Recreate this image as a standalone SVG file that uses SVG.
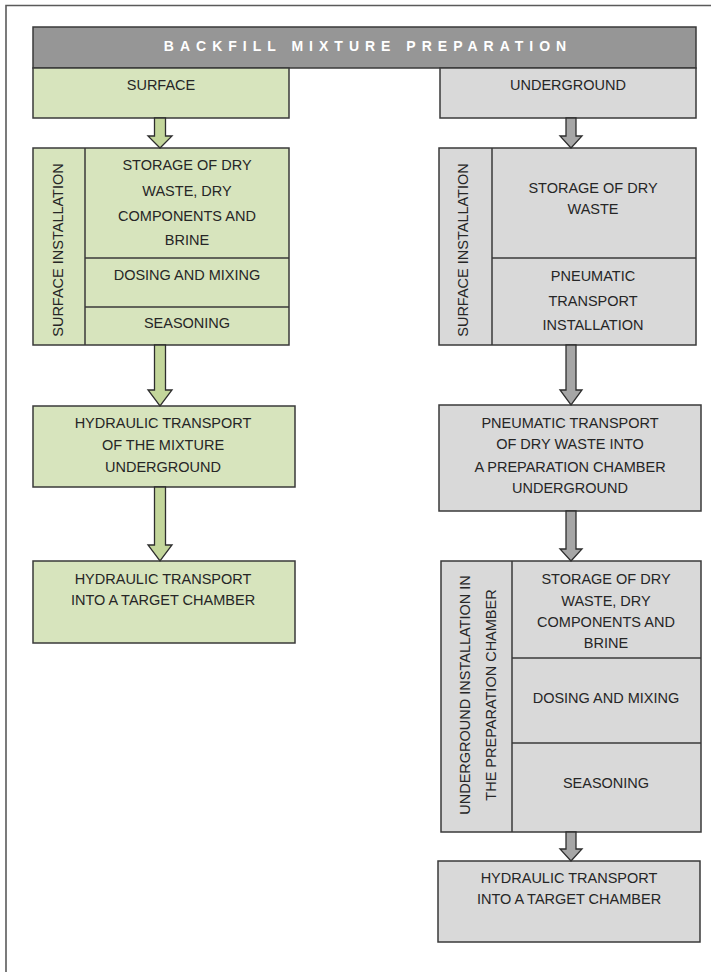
<svg xmlns="http://www.w3.org/2000/svg" width="711" height="972" viewBox="0 0 711 972">
<style>
  .t { font-family: "Liberation Sans", Arial, sans-serif; font-size: 14.5px; fill: #262626; text-anchor: middle; }
  .title { font-family: "Liberation Sans", Arial, sans-serif; font-size: 14px; font-weight: bold; fill: #ffffff; text-anchor: middle; letter-spacing: 6px; }
  .g { fill: #d7e4bd; stroke: #3a3a3a; stroke-width: 1.5; }
  .y { fill: #d9d9d9; stroke: #3a3a3a; stroke-width: 1.5; }
  .ln { fill: none; stroke: #3a3a3a; stroke-width: 1.5; }
  .ag { fill: #c3d69b; stroke: #2e2e2e; stroke-width: 1.3; stroke-linejoin: miter; }
  .ay { fill: #a6a6a6; stroke: #2e2e2e; stroke-width: 1.3; stroke-linejoin: miter; }
</style>
<rect width="711" height="972" fill="#ffffff"/>
<path d="M6,972 V5.5 H711" fill="none" stroke="#5a5a5a" stroke-width="1.6"/>

<g id="title">
  <rect x="33" y="27" width="663" height="41" fill="#969696" stroke="#3a3a3a" stroke-width="1.5"/>
  <text class="title" x="368" y="51">BACKFILL MIXTURE PREPARATION</text>
</g>

<g id="surface">
  <rect class="g" x="33" y="68" width="256" height="50"/>
  <text class="t" x="161" y="90">SURFACE</text>
</g>

<g id="underground">
  <rect class="y" x="440" y="68" width="256" height="50"/>
  <text class="t" x="568" y="90">UNDERGROUND</text>
</g>

<g id="surface-installation">
  <rect class="g" x="33" y="148" width="256" height="197"/>
  <line class="ln" x1="85" y1="148" x2="85" y2="345"/>
  <line class="ln" x1="85" y1="258" x2="289" y2="258"/>
  <line class="ln" x1="85" y1="307" x2="289" y2="307"/>
  <text class="t" transform="translate(63,250) rotate(-90)" x="0" y="0">SURFACE INSTALLATION</text>
  <text class="t" x="187" y="170">STORAGE OF DRY</text>
  <text class="t" x="187" y="196">WASTE, DRY</text>
  <text class="t" x="187" y="221">COMPONENTS AND</text>
  <text class="t" x="187" y="245">BRINE</text>
  <text class="t" x="187" y="280">DOSING AND MIXING</text>
  <text class="t" x="187" y="328">SEASONING</text>
</g>

<g id="hydraulic-underground">
  <rect class="g" x="33" y="406" width="262" height="81"/>
  <text class="t" x="163" y="428">HYDRAULIC TRANSPORT</text>
  <text class="t" x="163" y="450">OF THE MIXTURE</text>
  <text class="t" x="163" y="472">UNDERGROUND</text>
</g>

<g id="hydraulic-target-left">
  <rect class="g" x="33" y="561" width="262" height="82"/>
  <text class="t" x="163" y="584">HYDRAULIC TRANSPORT</text>
  <text class="t" x="163" y="605">INTO A TARGET CHAMBER</text>
</g>

<g id="underground-surface-installation">
  <rect class="y" x="439" y="148" width="257" height="197"/>
  <line class="ln" x1="492" y1="148" x2="492" y2="345"/>
  <line class="ln" x1="492" y1="258" x2="696" y2="258"/>
  <text class="t" transform="translate(468,250) rotate(-90)" x="0" y="0">SURFACE INSTALLATION</text>
  <text class="t" x="593" y="193">STORAGE OF DRY</text>
  <text class="t" x="593" y="214">WASTE</text>
  <text class="t" x="593" y="281">PNEUMATIC</text>
  <text class="t" x="593" y="306">TRANSPORT</text>
  <text class="t" x="593" y="330">INSTALLATION</text>
</g>

<g id="pneumatic-transport">
  <rect class="y" x="439" y="405" width="262" height="106"/>
  <text class="t" x="570" y="428">PNEUMATIC TRANSPORT</text>
  <text class="t" x="570" y="449">OF DRY WASTE INTO</text>
  <text class="t" x="570" y="472">A PREPARATION CHAMBER</text>
  <text class="t" x="570" y="493">UNDERGROUND</text>
</g>

<g id="preparation-chamber">
  <rect class="y" x="441" y="561" width="260" height="271"/>
  <line class="ln" x1="512" y1="561" x2="512" y2="832"/>
  <line class="ln" x1="512" y1="658" x2="701" y2="658"/>
  <line class="ln" x1="512" y1="743" x2="701" y2="743"/>
  <text class="t" transform="translate(470,695) rotate(-90)" x="0" y="0">UNDERGROUND INSTALLATION IN</text>
  <text class="t" transform="translate(496,695) rotate(-90)" x="0" y="0">THE PREPARATION CHAMBER</text>
  <text class="t" x="606" y="584">STORAGE OF DRY</text>
  <text class="t" x="606" y="606">WASTE, DRY</text>
  <text class="t" x="606" y="627">COMPONENTS AND</text>
  <text class="t" x="606" y="648">BRINE</text>
  <text class="t" x="606" y="703">DOSING AND MIXING</text>
  <text class="t" x="606" y="788">SEASONING</text>
</g>

<g id="hydraulic-target-right">
  <rect class="y" x="438" y="861" width="262" height="81"/>
  <text class="t" x="569" y="883">HYDRAULIC TRANSPORT</text>
  <text class="t" x="569" y="904">INTO A TARGET CHAMBER</text>
</g>

<g id="connectors">
  <polygon class="ag" points="154.5,118 165.5,118 165.5,136 172,136 160,148 148,136 154.5,136"/>
  <polygon class="ag" points="154.5,345 165.5,345 165.5,390 172,390 160,406 148,390 154.5,390"/>
  <polygon class="ag" points="154.5,487 165.5,487 165.5,545 172,545 160,561 148,545 154.5,545"/>
  <polygon class="ay" points="566,118 576,118 576,136 582,136 571,148 560,136 566,136"/>
  <polygon class="ay" points="566,345 576,345 576,390 582,390 571,405 560,390 566,390"/>
  <polygon class="ay" points="566,511 576,511 576,549 582,549 571,561 560,549 566,549"/>
  <polygon class="ay" points="566,832 576,832 576,849 582,849 571,861 560,849 566,849"/>
</g>
</svg>
